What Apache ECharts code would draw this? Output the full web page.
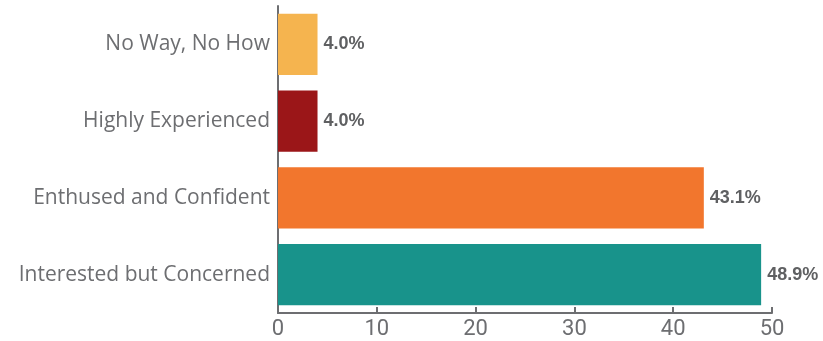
<!DOCTYPE html>
<html>
<head>
<meta charset="utf-8">
<script src="https://cdn.jsdelivr.net/npm/echarts@6/dist/echarts.min.js"></script>
<style>
  html, body { margin: 0; padding: 0; background: #fff; }
  #chart { width: 823px; height: 341px; }
</style>
</head>
<body>
<div id="chart"></div>
<script>
// categories, bottom to top
var categories = ['Interested but Concerned', 'Enthused and Confident', 'Highly Experienced', 'No Way, No How'];
var shares = [48.9, 43.1, 4.0, 4.0];
var barColors = ['#18938b', '#f2762d', '#9b1618', '#f5b44f'];
var xTicks = [0, 10, 20, 30, 40, 50];

var myChart = echarts.init(document.getElementById('chart'));

var option = {
    animation: false,
    grid: {
        left: 278,
        right: 51,
        top: 6,
        bottom: 28,
        containLabel: false
    },
    xAxis: {
        type: 'value',
        min: xTicks[0],
        max: xTicks[xTicks.length - 1],
        interval: 10,
        splitLine: { show: false },
        axisLine: { show: true, lineStyle: { color: '#6d6e71', width: 2 } },
        axisTick: { show: true, inside: true, length: 6, lineStyle: { color: '#6d6e71', width: 2 } },
        axisLabel: {
            color: '#6d6e71',
            fontSize: 22,
            fontFamily: 'Roboto',
            margin: 5
        }
    },
    yAxis: {
        type: 'category',
        data: categories,
        axisLine: { show: true, lineStyle: { color: '#6d6e71', width: 2 } },
        axisTick: { show: false },
        axisLabel: {
            color: '#6d6e71',
            fontSize: 21,
            fontFamily: 'Open Sans',
            margin: 8
        }
    },
    series: [{
        type: 'bar',
        barCategoryGap: '20%',
        data: shares.map(function (v, i) {
            return { value: v, itemStyle: { color: barColors[i] } };
        }),
        label: {
            show: true,
            position: 'right',
            distance: 6,
            formatter: function (p) { return p.value.toFixed(1) + '%'; },
            color: '#5f6062',
            fontSize: 18,
            fontWeight: 'bold',
            fontFamily: 'Liberation Sans'
        }
    }]
};

myChart.setOption(option, true);
</script>
</body>
</html>
